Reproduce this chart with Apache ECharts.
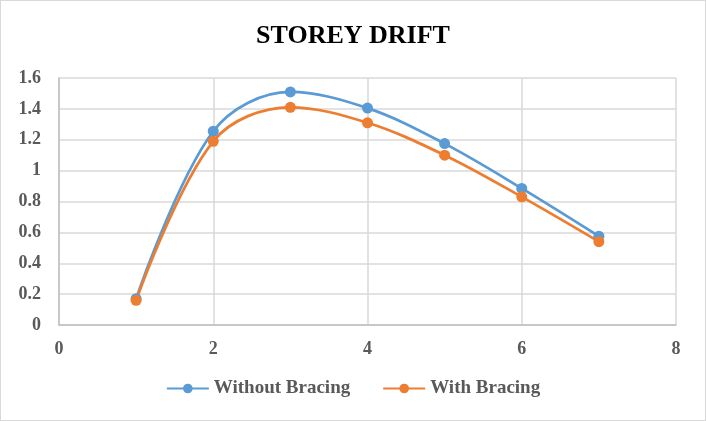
<!DOCTYPE html>
<html><head><meta charset="utf-8">
<script src="https://cdn.jsdelivr.net/npm/echarts@6/dist/echarts.min.js"></script>
<style>html,body{margin:0;padding:0;background:#fff}#c{width:704px;height:419px;border:1px solid #d9d9d9}</style>
</head><body><div id="c"></div>
<script>
var storeys = [1, 2, 3, 4, 5, 6, 7];
var withoutBracing = [0.17, 1.255, 1.51, 1.405, 1.175, 0.885, 0.575];
var withBracing = [0.16, 1.19, 1.41, 1.31, 1.10, 0.83, 0.54];
var seriesNames = ['Without Bracing', 'With Bracing'];
var titleText = 'STOREY DRIFT';

function pairs(xs, ys){ return xs.map(function(x,i){ return [x, ys[i]]; }); }
var font = 'Liberation Serif';
var chart = echarts.init(document.getElementById('c'));
chart.setOption({
  animation: false,
  title: { text: titleText, left: 'center', top: 17,
    textStyle: { fontFamily: font, fontWeight: 'bold', fontSize: 26, color: '#000' } },
  legend: { bottom: 17, itemGap: 32, itemWidth: 42, itemHeight: 12,
    textStyle: { fontFamily: font, fontWeight: 'bold', fontSize: 19, color: '#595959' },
    data: seriesNames },
  grid: { left: 58, right: 29, top: 77, bottom: 95 },
  xAxis: { type: 'value', min: 0, max: 8, interval: 2,
    axisLine: { show: true, lineStyle: { color: '#bfbfbf', width: 1.5 } },
    axisTick: { show: false },
    splitLine: { show: true, lineStyle: { color: '#d9d9d9', width: 1.5 } },
    axisLabel: { fontFamily: font, fontWeight: 'bold', fontSize: 18, color: '#595959', margin: 15 } },
  yAxis: { type: 'value', min: 0, max: 1.6, interval: 0.2,
    axisLine: { show: true, lineStyle: { color: '#bfbfbf', width: 1.5 } },
    axisTick: { show: false },
    splitLine: { show: true, lineStyle: { color: '#d9d9d9', width: 1.5 } },
    axisLabel: { fontFamily: font, fontWeight: 'bold', fontSize: 18, color: '#595959', margin: 18,
      formatter: function(v){ return String(Math.round(v*10)/10); } } },
  series: [
    { name: seriesNames[0], type: 'line', smooth: 0.35, data: pairs(storeys, withoutBracing),
      symbol: 'circle', symbolSize: 11, lineStyle: { width: 2.75, color: '#5b9bd5' },
      itemStyle: { color: '#5b9bd5' } },
    { name: seriesNames[1], type: 'line', smooth: 0.35, data: pairs(storeys, withBracing),
      symbol: 'circle', symbolSize: 11, lineStyle: { width: 2.75, color: '#ed7d31' },
      itemStyle: { color: '#ed7d31' } }
  ]
});
</script></body></html>
